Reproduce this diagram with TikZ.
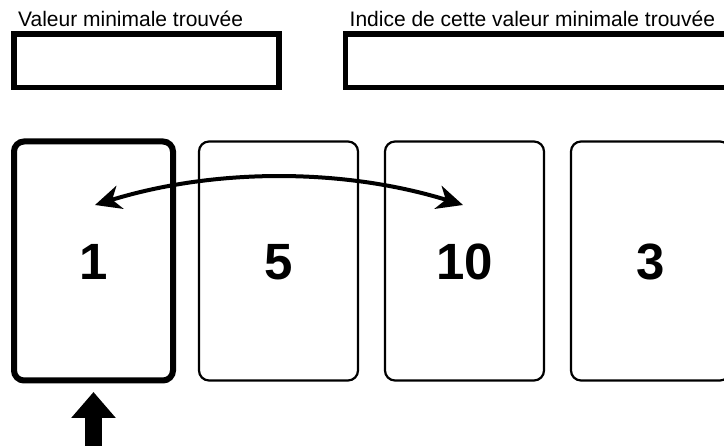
\documentclass[tikz,border=0pt]{standalone}
\usepackage{fontspec}
\setmainfont{Liberation Sans}
\usetikzlibrary{arrows.meta}
\begin{document}
\begin{tikzpicture}[x=1pt,y=-1pt,
    case/.style={draw,rounded corners=10pt,minimum width=159pt,minimum height=239pt,inner sep=0pt,text height=37pt,text depth=0pt,font=\fontsize{51}{51}\selectfont\bfseries},
    cadre/.style={draw,line width=5.5pt,inner sep=0pt,minimum height=53.5pt},
    titre/.style={anchor=base west,inner sep=0pt,font=\fontsize{21}{25}\selectfont}]
    \useasboundingbox (0,0) rectangle (724,446);
    %% Cadres du haut
    \node[titre] (tmin) at (18,26.7) {Valeur minimale trouvée};
    \node[cadre,minimum width=265pt] (vmin) at (146.5,60.75) {};
    \node[titre] (tind) at (349.5,26.7) {Indice de cette valeur minimale trouvée};
    \node[cadre,minimum width=400pt] (imin) at (545.5,60.75) {};
    %% Cases du tableau
    \node[case,line width=6pt] (c1) at (93.5,261) {1};
    \node[case,line width=2.2pt] (c2) at (278.5,261) {5};
    \node[case,line width=2.2pt] (c3) at (464.5,261) {10};
    \node[case,line width=2.2pt] (c4) at (650.5,261) {3};
    %% Echange
    \coordinate (ga) at (95,205);
    \coordinate (dr) at (463,205);
    \draw[line width=4pt,{Stealth[length=26pt,width=24pt,inset=8pt]}-{Stealth[length=26pt,width=24pt,inset=8pt]}] (ga) .. controls +(120,-37) and +(-120,-37) .. (dr);
    %% Indice courant
    \coordinate (pied) at (93.5,452);
    \coordinate (pointe) at (93.5,392);
    \draw[line width=17pt,-{Triangle[length=26pt,width=43pt]}] (pied) -- (pointe);
\end{tikzpicture}
\end{document}
